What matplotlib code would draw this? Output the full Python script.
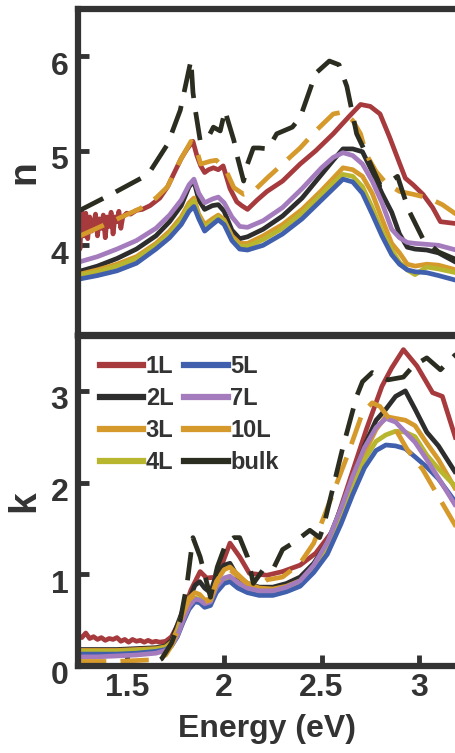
"""Refractive index n and extinction coefficient k versus photon energy, 1L to bulk."""

import matplotlib

matplotlib.use("Agg")
import matplotlib.pyplot as plt
import matplotlib.transforms as mtransforms
from matplotlib.lines import Line2D

plt.rcParams["font.family"] = ["Liberation Sans", "DejaVu Sans"]
plt.rcParams["font.weight"] = "bold"
plt.rcParams["axes.labelweight"] = "bold"

GRAY = "#333333"

LABELS = ["1L", "2L", "3L", "4L", "5L", "7L", "10L", "bulk"]
COLORS = {
    "1L": "#a63a3d",
    "2L": "#2d2d2d",
    "3L": "#d59a2b",
    "4L": "#b8b52f",
    "5L": "#4060ad",
    "7L": "#a47cbd",
    "10L": "#d59a2b",
    "bulk": "#2a2d1f",
}
DASHED = {"10L", "bulk"}

# ---------------- n (top panel) ----------------
E_n = [1.25, 1.35, 1.45, 1.55, 1.65, 1.72, 1.78, 1.82, 1.845, 1.87, 1.90, 1.94,
       1.97, 2.00, 2.04, 2.08, 2.12, 2.20, 2.30, 2.40, 2.50, 2.56, 2.61, 2.66,
       2.71, 2.76, 2.81, 2.86, 2.90, 2.94, 2.98, 3.04, 3.10, 3.19]

n_2L = [3.72, 3.78, 3.86, 3.96, 4.10, 4.25, 4.42, 4.62, 4.68, 4.48, 4.38, 4.42,
        4.43, 4.36, 4.16, 4.07, 4.09, 4.17, 4.31, 4.50, 4.75, 4.90, 5.02, 5.02,
        4.99, 4.78, 4.55, 4.35, 4.12, 3.98, 3.96, 3.95, 3.92, 3.82]
n_3L = [3.69, 3.74, 3.80, 3.88, 4.02, 4.15, 4.30, 4.45, 4.50, 4.33, 4.22, 4.28,
        4.32, 4.27, 4.10, 4.02, 4.02, 4.10, 4.22, 4.38, 4.58, 4.71, 4.82, 4.80,
        4.73, 4.55, 4.28, 4.02, 3.92, 3.80, 3.78, 3.80, 3.79, 3.74]
n_4L = [3.68, 3.72, 3.78, 3.86, 4.00, 4.12, 4.27, 4.42, 4.47, 4.30, 4.19, 4.25,
        4.30, 4.25, 4.07, 3.99, 3.99, 4.06, 4.18, 4.34, 4.54, 4.66, 4.75, 4.73,
        4.62, 4.40, 4.15, 3.95, 3.82, 3.74, 3.69, 3.77, 3.75, 3.71]
n_5L = [3.64, 3.68, 3.73, 3.81, 3.96, 4.08, 4.22, 4.36, 4.41, 4.28, 4.15, 4.22,
        4.27, 4.22, 4.05, 3.96, 3.95, 4.00, 4.12, 4.28, 4.48, 4.60, 4.70, 4.67,
        4.55, 4.33, 4.10, 3.90, 3.80, 3.74, 3.72, 3.71, 3.68, 3.63]
n_7L = [3.82, 3.88, 3.96, 4.05, 4.18, 4.32, 4.48, 4.64, 4.70, 4.55, 4.45, 4.49,
        4.51, 4.45, 4.30, 4.20, 4.19, 4.26, 4.40, 4.60, 4.82, 4.93, 4.98, 4.95,
        4.86, 4.68, 4.45, 4.17, 4.08, 4.03, 4.02, 4.01, 4.00, 3.95]

E_n_1L = [1.25, 1.26, 1.27, 1.28, 1.29, 1.30, 1.31, 1.32, 1.33, 1.34, 1.35, 1.36,
          1.37, 1.38, 1.39, 1.40, 1.41, 1.42, 1.43, 1.44, 1.45, 1.46, 1.47, 1.48,
          1.49, 1.50, 1.52, 1.55, 1.58, 1.62, 1.67, 1.71, 1.74, 1.78, 1.81, 1.84,
          1.86, 1.88, 1.90, 1.92, 1.945, 1.97, 1.995, 2.03, 2.065, 2.09, 2.12, 2.17,
          2.22, 2.30, 2.39, 2.47, 2.56, 2.64, 2.70, 2.75, 2.80, 2.85, 2.90, 2.93,
          2.97, 3.02, 3.07, 3.11, 3.19]
n_1L = [4.30, 3.96, 4.35, 4.10, 4.34, 4.07, 4.30, 4.15, 4.22, 4.33, 4.10, 4.28,
        4.18, 4.32, 4.08, 4.30, 4.20, 4.35, 4.12, 4.30, 4.25, 4.36, 4.18, 4.30,
        4.32, 4.34, 4.33, 4.37, 4.38, 4.42, 4.50, 4.62, 4.75, 4.92, 5.02, 5.10,
        4.95, 4.84, 4.77, 4.80, 4.82, 4.80, 4.84, 4.60, 4.46, 4.42, 4.38, 4.48,
        4.57, 4.68, 4.86, 5.00, 5.18, 5.36, 5.49, 5.47, 5.39, 5.14, 4.87, 4.71,
        4.64, 4.54, 4.40, 4.25, 4.23]

E_n_10L = [1.25, 1.40, 1.57, 1.65, 1.71, 1.775, 1.83, 1.86, 1.88, 1.93, 1.96, 2.01,
           2.05, 2.10, 2.15, 2.22, 2.39, 2.47, 2.56, 2.61, 2.66, 2.70, 2.73, 2.78,
           2.83, 2.90, 2.97, 3.05, 3.12, 3.19]
n_10L = [4.09, 4.23, 4.39, 4.50, 4.62, 4.90, 5.10, 5.00, 4.86, 4.89, 4.90, 4.79,
         4.61, 4.54, 4.57, 4.71, 5.03, 5.21, 5.39, 5.41, 5.32, 5.18, 4.96, 4.78,
         4.66, 4.57, 4.54, 4.50, 4.43, 4.33]

E_n_bulk = [1.25, 1.43, 1.61, 1.71, 1.775, 1.83, 1.84, 1.85, 1.877, 1.91, 1.945, 1.98,
            2.005, 2.015, 2.05, 2.07, 2.10, 2.12, 2.15, 2.18, 2.225, 2.27, 2.35, 2.39,
            2.47, 2.54, 2.59, 2.63, 2.68, 2.71, 2.80, 2.84, 2.89, 2.92, 2.95, 3.02,
            3.10, 3.19]
n_bulk = [4.36, 4.55, 4.75, 5.07, 5.43, 5.96, 5.62, 5.46, 5.11, 5.11, 5.25, 5.21,
          5.43, 5.35, 5.11, 4.92, 4.68, 4.86, 5.03, 5.03, 5.02, 5.18, 5.25, 5.35,
          5.82, 5.95, 5.91, 5.68, 5.18, 5.05, 4.64, 4.66, 4.73, 4.54, 4.36, 4.07,
          3.93, 3.85]

# ---------------- k (bottom panel) ----------------
E_k = [1.25, 1.35, 1.45, 1.55, 1.65, 1.70, 1.73, 1.76, 1.79, 1.82, 1.85, 1.875,
       1.90, 1.93, 1.96, 2.00, 2.03, 2.07, 2.12, 2.18, 2.25, 2.32, 2.39, 2.46,
       2.53, 2.60, 2.66, 2.72, 2.78, 2.83, 2.88, 2.93, 2.98, 3.04, 3.10, 3.19]

k_2L = [0.18, 0.18, 0.18, 0.19, 0.20, 0.22, 0.28, 0.45, 0.62, 0.72, 0.88, 0.92,
        0.85, 0.80, 1.00, 1.10, 1.12, 0.97, 0.90, 0.86, 0.86, 0.90, 0.97, 1.12,
        1.35, 1.72, 2.05, 2.40, 2.68, 2.80, 2.94, 3.00, 2.80, 2.55, 2.40, 2.10]
k_3L = [0.17, 0.17, 0.17, 0.18, 0.19, 0.21, 0.26, 0.40, 0.60, 0.74, 0.80, 0.78,
        0.72, 0.73, 0.92, 1.05, 1.08, 1.00, 0.90, 0.85, 0.84, 0.87, 0.93, 1.08,
        1.32, 1.68, 2.02, 2.32, 2.58, 2.72, 2.70, 2.68, 2.62, 2.43, 2.25, 1.92]
k_4L = [0.16, 0.16, 0.16, 0.17, 0.18, 0.20, 0.24, 0.36, 0.54, 0.68, 0.74, 0.73,
        0.67, 0.69, 0.85, 0.95, 0.97, 0.90, 0.84, 0.81, 0.81, 0.84, 0.90, 1.06,
        1.30, 1.65, 1.98, 2.25, 2.45, 2.52, 2.56, 2.55, 2.50, 2.30, 2.15, 1.95]
k_5L = [0.13, 0.13, 0.13, 0.14, 0.16, 0.18, 0.22, 0.32, 0.48, 0.62, 0.70, 0.69,
        0.64, 0.66, 0.80, 0.90, 0.92, 0.85, 0.80, 0.77, 0.77, 0.81, 0.87, 1.02,
        1.22, 1.55, 1.87, 2.16, 2.35, 2.41, 2.40, 2.37, 2.28, 2.17, 2.04, 1.78]
k_7L = [0.10, 0.10, 0.11, 0.12, 0.14, 0.17, 0.22, 0.33, 0.50, 0.65, 0.73, 0.72,
        0.68, 0.70, 0.86, 0.96, 0.98, 0.91, 0.85, 0.82, 0.82, 0.86, 0.93, 1.10,
        1.35, 1.72, 2.07, 2.38, 2.60, 2.70, 2.66, 2.55, 2.44, 2.25, 2.05, 1.74]

E_k_1L = [1.25, 1.27, 1.29, 1.31, 1.33, 1.35, 1.37, 1.39, 1.41, 1.43, 1.45, 1.47,
          1.49, 1.51, 1.53, 1.55, 1.57, 1.59, 1.61, 1.63, 1.65, 1.67, 1.70, 1.73,
          1.775, 1.83, 1.877, 1.91, 1.965, 2.03, 2.08, 2.13, 2.22, 2.30, 2.39, 2.47,
          2.56, 2.645, 2.73, 2.81, 2.86, 2.92, 2.99, 3.07, 3.12, 3.19]
k_1L = [0.34, 0.31, 0.36, 0.30, 0.32, 0.29, 0.31, 0.28, 0.30, 0.29, 0.31, 0.27,
        0.29, 0.26, 0.29, 0.27, 0.28, 0.26, 0.28, 0.26, 0.27, 0.26, 0.27, 0.32,
        0.50, 0.83, 1.03, 0.96, 0.97, 1.34, 1.19, 1.01, 0.99, 1.03, 1.10, 1.23,
        1.48, 2.03, 2.58, 3.05, 3.25, 3.45, 3.27, 2.98, 2.94, 2.47]

E_k_10L = [1.25, 1.45, 1.65, 1.70, 1.73, 1.76, 1.79, 1.82, 1.85, 1.875, 1.90, 1.93,
           1.96, 2.00, 2.03, 2.07, 2.12, 2.18, 2.22, 2.30, 2.39, 2.46, 2.54, 2.63,
           2.71, 2.76, 2.80, 2.85, 2.94, 3.02, 3.11, 3.19]
k_10L = [0.05, 0.05, 0.07, 0.12, 0.22, 0.38, 0.58, 0.72, 0.78, 0.76, 0.70, 0.72,
         0.90, 1.02, 1.05, 0.98, 0.90, 0.88, 0.94, 0.97, 1.12, 1.34, 1.78, 2.28,
         2.76, 2.87, 2.83, 2.69, 2.36, 2.14, 1.81, 1.52]

E_k_bulk = [1.25, 1.45, 1.62, 1.68, 1.73, 1.775, 1.81, 1.84, 1.877, 1.93, 1.965, 2.01,
            2.05, 2.08, 2.12, 2.15, 2.20, 2.25, 2.30, 2.36, 2.44, 2.49, 2.51, 2.61,
            2.68, 2.71, 2.76, 2.84, 2.92, 2.97, 3.04, 3.11, 3.19]
k_bulk = [-0.10, -0.06, 0.00, 0.08, 0.25, 0.50, 0.90, 1.40, 1.19, 0.75, 1.08, 1.34,
          1.40, 1.40, 1.19, 0.90, 1.05, 1.05, 1.27, 1.35, 1.48, 1.40, 1.52, 2.39,
          2.94, 3.10, 3.20, 3.12, 3.15, 3.27, 3.36, 3.23, 3.40]

N_SERIES = {
    "1L": (E_n_1L, n_1L), "2L": (E_n, n_2L), "3L": (E_n, n_3L), "4L": (E_n, n_4L),
    "5L": (E_n, n_5L), "7L": (E_n, n_7L), "10L": (E_n_10L, n_10L),
    "bulk": (E_n_bulk, n_bulk),
}
K_SERIES = {
    "1L": (E_k_1L, k_1L), "2L": (E_k, k_2L), "3L": (E_k, k_3L), "4L": (E_k, k_4L),
    "5L": (E_k, k_5L), "7L": (E_k, k_7L), "10L": (E_k_10L, k_10L),
    "bulk": (E_k_bulk, k_bulk),
}


def draw(ax, series):
    for name in LABELS:
        x, y = series[name]
        kw = {"dashes": (6, 3)} if name in DASHED else {}
        ax.plot(x, y, color=COLORS[name], lw=3.4, solid_capstyle="butt", **kw)


def style_axes(ax, fig):
    for side in ("left", "top", "bottom"):
        ax.spines[side].set_linewidth(4.5)
        ax.spines[side].set_color(GRAY)
    ax.spines["right"].set_visible(False)
    ax.tick_params(axis="both", direction="in", length=8, width=3.5, color=GRAY,
                   labelsize=23, labelcolor=GRAY, pad=5)
    ax.tick_params(axis="y", pad=7)
    ax.tick_params(top=False, right=False)
    ax.set_xlim(1.25, 3.19)
    # tick labels on the y axis sit a little below their ticks in the original
    shift = mtransforms.ScaledTranslation(0, -5 / 72, fig.dpi_scale_trans)
    for lab in ax.get_yticklabels():
        lab.set_transform(lab.get_transform() + shift)


fig = plt.figure(figsize=(4.56, 7.53), dpi=100)
ax_n = fig.add_axes([0.171, 0.555, 0.829, 0.433])
ax_k = fig.add_axes([0.171, 0.1155, 0.829, 0.4385])

draw(ax_n, N_SERIES)
draw(ax_k, K_SERIES)

ax_n.set_ylim(3.05, 6.5)
ax_n.set_yticks([4, 5, 6])
ax_k.set_ylim(0, 3.6)
ax_k.set_yticks([0, 1, 2, 3])
ax_k.set_xticks([1.5, 2, 2.5, 3])
ax_k.set_xticklabels(["1.5", "2", "2.5", "3"])

style_axes(ax_n, fig)
style_axes(ax_k, fig)
ax_n.tick_params(axis="x", bottom=False, labelbottom=False)

ax_n.set_ylabel("n", fontsize=28, color=GRAY, labelpad=6)
ax_k.set_ylabel("k", fontsize=28, color=GRAY, labelpad=6)
ax_k.set_xlabel("Energy (eV)", fontsize=23, color=GRAY, labelpad=8)

handles = [Line2D([], [], color=COLORS[name], lw=4.5) for name in LABELS]
leg = ax_k.legend(handles, LABELS, loc="upper left", bbox_to_anchor=(0.02, 0.985),
                  ncol=2, frameon=False, fontsize=17, handlelength=1.85,
                  handletextpad=0.1, columnspacing=0.45, labelspacing=0.38,
                  borderaxespad=0.2)
for t in leg.get_texts():
    t.set_color(GRAY)

fig.savefig("out.png", dpi=100)
